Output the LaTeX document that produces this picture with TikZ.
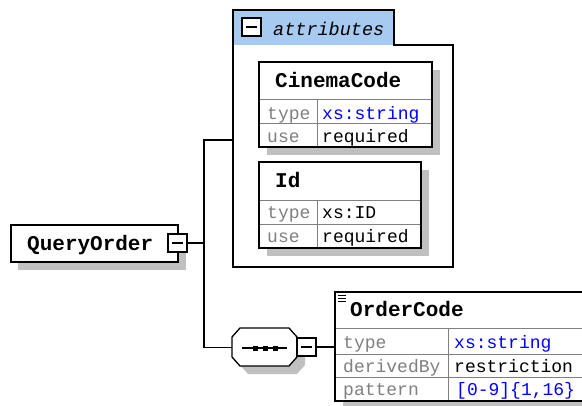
\documentclass[tikz,border=0pt]{standalone}
\usepackage{fontspec}
\setmonofont{Liberation Mono}
\definecolor{tabblue}{RGB}{166,202,240}
\definecolor{shade}{RGB}{192,192,192}
\definecolor{lbl}{RGB}{128,128,128}
\definecolor{valblue}{RGB}{0,0,255}
\newcommand\hdrfont{\ttfamily\bfseries\fontsize{21}{21}\selectfont}
\newcommand\labfont{\ttfamily\fontsize{18}{18}\selectfont}
\newcommand\tabfont{\ttfamily\itshape\fontsize{18.5}{18.5}\selectfont}
\tikzset{
  border/.style={draw=black, line width=1.3pt, fill=white, inner sep=0pt, outer sep=0pt, anchor=north west},
  shadowfill/.style={fill=shade, draw=none},
  gridline/.style={draw=lbl, line width=1pt},
  hdr/.style={font=\hdrfont, anchor=base west, inner sep=0pt},
  lab/.style={font=\labfont, text=lbl, anchor=base west, inner sep=0pt},
  val/.style={font=\labfont, text=black, anchor=base west, inner sep=0pt},
  bval/.style={font=\labfont, text=valblue, anchor=base west, inner sep=0pt},
  minusbox/.style={draw=black, line width=1.2pt, fill=white, minimum width=19pt, minimum height=18pt, inner sep=0pt, outer sep=0pt, anchor=north west},
  conn/.style={draw=black, line width=1.2pt},
}
\begin{document}
\begin{tikzpicture}[x=1pt,y=-1pt]
\useasboundingbox (0,0) rectangle (582,405);
% ---------- QueryOrder ----------
\fill[shadowfill] (18,233) rectangle (186,270);
\node[border, minimum width=167pt, minimum height=37pt] (qo) at (11,225) {};
\node[hdr] (qotext) at (27,250) {QueryOrder};
\node[minusbox] (qmin) at (168,234) {};
\draw[line width=1.1pt] ([xshift=4pt]qmin.west) -- ([xshift=-4pt]qmin.east);
% ---------- attributes ----------
\fill[tabblue] (233,10) rectangle (394,45);
\draw[line width=1.3pt] (233,10) -- (394,10) -- (394,45) -- (453,45) -- (453,267) -- (233,267) -- cycle;
\coordinate (attrin) at (233,140);
\node[minusbox] (amin) at (242,18) {};
\draw[line width=1.1pt] ([xshift=4pt]amin.west) -- ([xshift=-4pt]amin.east);
\node[font=\tabfont, anchor=base west, inner sep=0pt] (attrtext) at (273,35) {attributes};
% ---------- CinemaCode ----------
\fill[shadowfill] (267,70) rectangle (440,155);
\node[border, minimum width=173pt, minimum height=85pt] (cc) at (259,62) {};
\draw[gridline] (259,99) -- (432,99);
\draw[gridline] (259,123) -- (432,123);
\draw[gridline] (317,99) -- (317,147);
\draw[line width=1.3pt] (cc.north west) rectangle (cc.south east);
\node[hdr] (cctext) at (275,87) {CinemaCode};
\node[lab] (cct) at (267,119) {type};
\node[bval] (cctv) at (322,119) {xs:string};
\node[lab] (ccu) at (267,142) {use};
\node[val] (ccuv) at (322,142) {required};
% ---------- Id ----------
\fill[shadowfill] (267,170) rectangle (429,256);
\node[border, minimum width=162pt, minimum height=86pt] (id) at (259,162) {};
\draw[gridline] (259,200) -- (421,200);
\draw[gridline] (259,224) -- (421,224);
\draw[gridline] (317,200) -- (317,248);
\draw[line width=1.3pt] (id.north west) rectangle (id.south east);
\node[hdr] (idtext) at (275,187) {Id};
\node[lab] (idt) at (267,218) {type};
\node[val] (idtv) at (322,218) {xs:ID};
\node[lab] (idu) at (267,242) {use};
\node[val] (iduv) at (322,242) {required};
% ---------- sequence ----------
\fill[shadowfill] (248,336) -- (297,336) -- (305,345) -- (305,365) -- (297,374) -- (248,374) -- (240,365) -- (240,345) -- cycle;
\node[inner sep=0pt, minimum width=65pt, minimum height=38pt, anchor=north west] (seq) at (232,328) {};
\draw[line width=1.3pt, fill=white] (240,328) -- (289,328) -- (297,337) -- (297,357) -- (289,366) -- (240,366) -- (232,357) -- (232,337) -- cycle;
\draw[line width=1.1pt] (242,348) -- (287,348);
\foreach \dx in {255,265,275} \fill (\dx-2.5,345.5) rectangle (\dx+2.5,350.5);
\node[minusbox] (smin) at (297,338) {};
\draw[line width=1.1pt] ([xshift=4pt]smin.west) -- ([xshift=-4pt]smin.east);
% ---------- OrderCode ----------
\fill[shadowfill] (343,300) rectangle (600,409);
\node[border, minimum width=260pt, minimum height=109pt] (oc) at (335,292) {};
\draw[gridline] (335,328) -- (595,328);
\draw[gridline] (335,354) -- (595,354);
\draw[gridline] (335,377) -- (595,377);
\draw[gridline] (448,328) -- (448,401);
\draw[line width=1.3pt] (oc.north west) rectangle (oc.south east);
\foreach \yy in {295,298,301} \draw[line width=1pt] (338,\yy) -- (346,\yy);
\node[hdr] (octext) at (350,316) {OrderCode};
\node[lab] (oct) at (343,348) {type};
\node[bval] (octv) at (454,348) {xs:string};
\node[lab] (ocd) at (343,372) {derivedBy};
\node[val] (ocdv) at (454,372) {restriction};
\node[lab] (ocp) at (343,395) {pattern};
\node[bval] (ocpv) at (456,395) {[0-9]\{1,16\}};
% ---------- connectors ----------
\coordinate (junc) at (204,243);
\draw[conn] (qmin.east) -- (junc);
\draw[conn] (junc) |- (attrin);
\draw[conn] (junc) |- (seq.west);
\draw[conn] (smin.east) -- (oc.west |- smin.east);
\end{tikzpicture}
\end{document}
